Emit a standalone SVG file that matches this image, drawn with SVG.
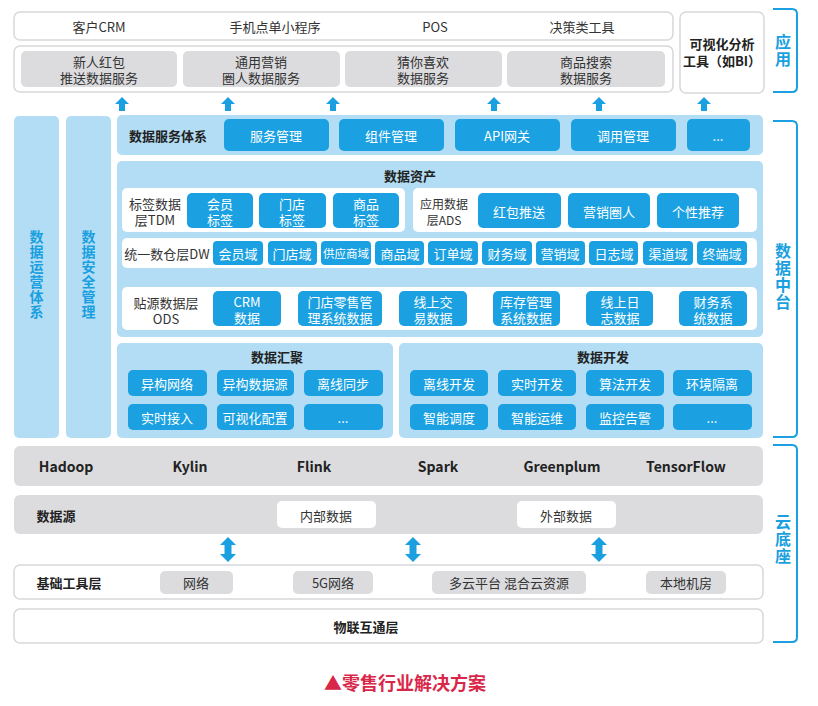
<svg xmlns="http://www.w3.org/2000/svg" xmlns:xlink="http://www.w3.org/1999/xlink" width="818" height="706" viewBox="0 0 818 706">
<style>
text{font-family:"Noto Sans CJK SC","Noto Sans",sans-serif;text-anchor:middle;dominant-baseline:central}
.wb{fill:#fff;stroke:#d8d8da;stroke-width:1.5}
.gb{fill:#dcdcdf}
.lb{fill:#b2ddf4}
.bt{fill:#1ba1e1}
.t{font-size:13px;fill:#333}
.tb{font-size:13px;fill:#222;font-weight:bold}
.w{font-size:13px;fill:#fff}
.v{font-size:14px;fill:#1a9fe0;font-weight:bold;writing-mode:vertical-rl;letter-spacing:1px}
.br{fill:none;stroke:#1a9fe0;stroke-width:2}
.bl{font-size:16px;fill:#1a9fe0;font-weight:bold;writing-mode:vertical-rl;letter-spacing:1px}
.ar{fill:#1a9fe0}
</style>
<defs>
<path id="up" d="M-7,7 L0,0 L7,7 L3,7 L3,14 L-3,14 L-3,7 Z"/>
<path id="dbl" d="M0,0 L8,8 L3.5,8 L3.5,17 L8,17 L0,25 L-8,17 L-3.5,17 L-3.5,8 L-8,8 Z"/>
</defs>
<rect width="818" height="706" fill="#fff"/>

<!-- Application layer -->
<g id="app-top">
<rect class="wb" x="14" y="12" width="659" height="28" rx="6"/>
<text class="t" x="99" y="26">客户CRM</text>
<text class="t" x="275" y="26">手机点单小程序</text>
<text class="t" x="435" y="26">POS</text>
<text class="t" x="582" y="26">决策类工具</text>
</g>
<g id="app-services">
<rect class="wb" x="14" y="46" width="659" height="46" rx="6"/>
<rect class="gb" x="21" y="51" width="156" height="36" rx="5"/>
<text class="t"><tspan x="99" y="61">新人红包</tspan><tspan x="99" y="77">推送数据服务</tspan></text>
<rect class="gb" x="183" y="51" width="157" height="36" rx="5"/>
<text class="t"><tspan x="261" y="61">通用营销</tspan><tspan x="261" y="77">圈人数据服务</tspan></text>
<rect class="gb" x="345" y="51" width="157" height="36" rx="5"/>
<text class="t"><tspan x="423" y="61">猜你喜欢</tspan><tspan x="423" y="77">数据服务</tspan></text>
<rect class="gb" x="507" y="51" width="158" height="36" rx="5"/>
<text class="t"><tspan x="586" y="61">商品搜索</tspan><tspan x="586" y="77">数据服务</tspan></text>
</g>
<g id="bi-tool">
<rect class="wb" x="680" y="12" width="84" height="81" rx="6"/>
<text class="tb"><tspan x="722" y="43">可视化分析</tspan><tspan x="722" y="60">工具（如BI）</tspan></text>
</g>

<!-- Connectors -->
<g id="connectors" class="ar">
<use xlink:href="#up" x="122" y="97"/>
<use xlink:href="#up" x="228" y="97"/>
<use xlink:href="#up" x="333" y="97"/>
<use xlink:href="#up" x="494" y="97"/>
<use xlink:href="#up" x="599" y="97"/>
<use xlink:href="#up" x="704" y="97"/>
<use xlink:href="#dbl" x="228" y="537"/>
<use xlink:href="#dbl" x="413" y="537"/>
<use xlink:href="#dbl" x="599" y="537"/>
</g>

<!-- Side columns -->
<g id="ops">
<rect class="lb" x="14" y="116" width="45" height="322" rx="5"/>
<text class="v" x="36.5" y="275">数据运营体系</text>
</g>
<g id="security">
<rect class="lb" x="66" y="116" width="45" height="322" rx="5"/>
<text class="v" x="88.5" y="275">数据安全管理</text>
</g>

<!-- Data service system -->
<g id="data-service">
<rect class="lb" x="117" y="115" width="646" height="40" rx="5"/>
<text class="tb" x="168" y="135">数据服务体系</text>
<rect class="bt" x="224" y="119" width="105" height="32" rx="5"/><text class="w" x="276" y="135">服务管理</text>
<rect class="bt" x="339" y="119" width="105" height="32" rx="5"/><text class="w" x="391" y="135">组件管理</text>
<rect class="bt" x="455" y="119" width="105" height="32" rx="5"/><text class="w" x="507" y="135">API网关</text>
<rect class="bt" x="571" y="119" width="105" height="32" rx="5"/><text class="w" x="623" y="135">调用管理</text>
<rect class="bt" x="687" y="119" width="63" height="32" rx="5"/><text class="w" x="718" y="135">...</text>
</g>

<!-- Data assets -->
<g id="data-assets">
<rect class="lb" x="117" y="161" width="646" height="176" rx="5"/>
<text class="tb" x="410" y="175">数据资产</text>
</g>
<g id="tdm">
<rect fill="#fff" x="122" y="188" width="283" height="44" rx="5"/>
<text class="t"><tspan x="155" y="203">标签数据</tspan><tspan x="155" y="219">层TDM</tspan></text>
<rect class="bt" x="187" y="193" width="66" height="35" rx="5"/><text class="w"><tspan x="220" y="203">会员</tspan><tspan x="220" y="219">标签</tspan></text>
<rect class="bt" x="259" y="193" width="67" height="35" rx="5"/><text class="w"><tspan x="292" y="203">门店</tspan><tspan x="292" y="219">标签</tspan></text>
<rect class="bt" x="333" y="193" width="66" height="35" rx="5"/><text class="w"><tspan x="366" y="203">商品</tspan><tspan x="366" y="219">标签</tspan></text>
</g>
<g id="ads">
<rect fill="#fff" x="413" y="188" width="344" height="44" rx="5"/>
<text class="t" style="font-size:12px"><tspan x="444" y="203">应用数据</tspan><tspan x="444" y="219">层ADS</tspan></text>
<rect class="bt" x="478" y="193" width="83" height="35" rx="5"/><text class="w" x="519" y="211">红包推送</text>
<rect class="bt" x="568" y="193" width="82" height="35" rx="5"/><text class="w" x="609" y="211">营销圈人</text>
<rect class="bt" x="657" y="193" width="82" height="35" rx="5"/><text class="w" x="698" y="211">个性推荐</text>
</g>
<g id="dw">
<rect fill="#fff" x="122" y="238" width="635" height="30" rx="5"/>
<text class="t" x="167" y="253">统一数仓层DW</text>
<rect class="bt" x="213" y="241" width="50" height="24" rx="4"/><text class="w" x="238" y="253">会员域</text>
<rect class="bt" x="268" y="241" width="49" height="24" rx="4"/><text class="w" x="292" y="253">门店域</text>
<rect class="bt" x="321" y="241" width="50" height="24" rx="4"/><text class="w" x="346" y="253" style="font-size:11.5px">供应商域</text>
<rect class="bt" x="375" y="241" width="49" height="24" rx="4"/><text class="w" x="400" y="253">商品域</text>
<rect class="bt" x="428" y="241" width="50" height="24" rx="4"/><text class="w" x="453" y="253">订单域</text>
<rect class="bt" x="482" y="241" width="50" height="24" rx="4"/><text class="w" x="507" y="253">财务域</text>
<rect class="bt" x="536" y="241" width="49" height="24" rx="4"/><text class="w" x="560" y="253">营销域</text>
<rect class="bt" x="589" y="241" width="49" height="24" rx="4"/><text class="w" x="614" y="253">日志域</text>
<rect class="bt" x="643" y="241" width="50" height="24" rx="4"/><text class="w" x="668" y="253">渠道域</text>
<rect class="bt" x="697" y="241" width="50" height="24" rx="4"/><text class="w" x="722" y="253">终端域</text>
</g>
<g id="ods">
<rect fill="#fff" x="122" y="287" width="635" height="43" rx="5"/>
<text class="t"><tspan x="166" y="302">贴源数据层</tspan><tspan x="166" y="318">ODS</tspan></text>
<rect class="bt" x="213" y="291" width="68" height="35" rx="5"/><text class="w"><tspan x="247" y="301">CRM</tspan><tspan x="247" y="317">数据</tspan></text>
<rect class="bt" x="298" y="291" width="84" height="35" rx="5"/><text class="w"><tspan x="340" y="301">门店零售管</tspan><tspan x="340" y="317">理系统数据</tspan></text>
<rect class="bt" x="399" y="291" width="68" height="35" rx="5"/><text class="w"><tspan x="433" y="301">线上交</tspan><tspan x="433" y="317">易数据</tspan></text>
<rect class="bt" x="493" y="291" width="67" height="35" rx="5"/><text class="w"><tspan x="526" y="301">库存管理</tspan><tspan x="526" y="317">系统数据</tspan></text>
<rect class="bt" x="586" y="291" width="67" height="35" rx="5"/><text class="w"><tspan x="620" y="301">线上日</tspan><tspan x="620" y="317">志数据</tspan></text>
<rect class="bt" x="679" y="291" width="68" height="35" rx="5"/><text class="w"><tspan x="713" y="301">财务系</tspan><tspan x="713" y="317">统数据</tspan></text>
</g>

<!-- Data aggregation -->
<g id="data-aggregation">
<rect class="lb" x="117" y="343" width="276" height="95" rx="5"/>
<text class="tb" x="277" y="356">数据汇聚</text>
<rect class="bt" x="128" y="370" width="79" height="26" rx="5"/><text class="w" x="167" y="383">异构网络</text>
<rect class="bt" x="217" y="370" width="77" height="26" rx="5"/><text class="w" x="255" y="383">异构数据源</text>
<rect class="bt" x="304" y="370" width="79" height="26" rx="5"/><text class="w" x="343" y="383">离线同步</text>
<rect class="bt" x="128" y="404" width="79" height="26" rx="5"/><text class="w" x="167" y="417">实时接入</text>
<rect class="bt" x="217" y="404" width="77" height="26" rx="5"/><text class="w" x="255" y="417">可视化配置</text>
<rect class="bt" x="304" y="404" width="79" height="26" rx="5"/><text class="w" x="343" y="417">...</text>
</g>
<g id="data-development">
<rect class="lb" x="399" y="343" width="364" height="95" rx="5"/>
<text class="tb" x="603" y="356">数据开发</text>
<rect class="bt" x="410" y="370" width="78" height="26" rx="5"/><text class="w" x="449" y="383">离线开发</text>
<rect class="bt" x="498" y="370" width="78" height="26" rx="5"/><text class="w" x="537" y="383">实时开发</text>
<rect class="bt" x="586" y="370" width="78" height="26" rx="5"/><text class="w" x="625" y="383">算法开发</text>
<rect class="bt" x="673" y="370" width="79" height="26" rx="5"/><text class="w" x="712" y="383">环境隔离</text>
<rect class="bt" x="410" y="404" width="78" height="26" rx="5"/><text class="w" x="449" y="417">智能调度</text>
<rect class="bt" x="498" y="404" width="78" height="26" rx="5"/><text class="w" x="537" y="417">智能运维</text>
<rect class="bt" x="586" y="404" width="78" height="26" rx="5"/><text class="w" x="625" y="417">监控告警</text>
<rect class="bt" x="673" y="404" width="79" height="26" rx="5"/><text class="w" x="712" y="417">...</text>
</g>

<!-- Cloud base -->
<g id="engines">
<rect class="gb" x="14" y="446" width="749" height="40" rx="6"/>
<text class="tb" x="66" y="466" style="font-size:14px">Hadoop</text>
<text class="tb" x="190" y="466" style="font-size:14px">Kylin</text>
<text class="tb" x="314" y="466" style="font-size:14px">Flink</text>
<text class="tb" x="438" y="466" style="font-size:14px">Spark</text>
<text class="tb" x="562" y="466" style="font-size:14px">Greenplum</text>
<text class="tb" x="686" y="466" style="font-size:14px">TensorFlow</text>
</g>
<g id="data-source">
<rect class="gb" x="14" y="495" width="749" height="39" rx="6"/>
<text class="tb" x="56" y="515">数据源</text>
<rect fill="#fff" x="277" y="501" width="99" height="27" rx="5"/><text class="t" x="326" y="515">内部数据</text>
<rect fill="#fff" x="517" y="501" width="99" height="27" rx="5"/><text class="t" x="566" y="515">外部数据</text>
</g>
<g id="base-tools">
<rect class="wb" x="14" y="565" width="749" height="34" rx="6"/>
<text class="tb" x="69" y="582">基础工具层</text>
<rect class="gb" x="160" y="571" width="73" height="23" rx="5"/><text class="t" x="196" y="582">网络</text>
<rect class="gb" x="293" y="571" width="80" height="23" rx="5"/><text class="t" x="333" y="582">5G网络</text>
<rect class="gb" x="432" y="571" width="154" height="23" rx="5"/><text class="t" x="509" y="582">多云平台 混合云资源</text>
<rect class="gb" x="646" y="571" width="80" height="23" rx="5"/><text class="t" x="686" y="582">本地机房</text>
</g>
<g id="iot">
<rect class="wb" x="14" y="609" width="749" height="34" rx="6"/>
<text class="tb" x="366" y="626">物联互通层</text>
</g>

<!-- Brackets -->
<g id="bracket-app">
<path class="br" d="M773,9 H792 Q797,9 797,14 V87 Q797,92 792,92 H773"/>
<text class="bl" x="783" y="51">应用</text>
</g>
<g id="bracket-middle">
<path class="br" d="M773,121 H792 Q797,121 797,126 V432 Q797,437 792,437 H773"/>
<text class="bl" x="783" y="277">数据中台</text>
</g>
<g id="bracket-cloud">
<path class="br" d="M773,445 H792 Q797,445 797,450 V637 Q797,642 792,642 H773"/>
<text class="bl" x="783" y="539">云底座</text>
</g>

<text x="405" y="682" style="font-size:18px;font-weight:bold;fill:#d9274a">▲零售行业解决方案</text>
</svg>
